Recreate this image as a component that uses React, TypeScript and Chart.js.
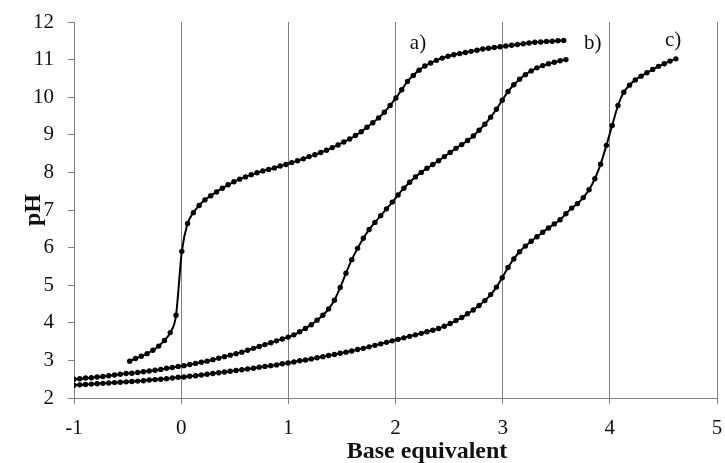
import React, { useEffect, useRef } from "react";
import { Chart, registerables } from "chart.js";

Chart.register(...registerables);

// Curve a)
const xA = [-0.48, -0.426, -0.372, -0.318, -0.264, -0.21, -0.156, -0.102, -0.048, 0.006, 0.06, 0.114, 0.168, 0.222, 0.276, 0.33, 0.384, 0.438, 0.492, 0.546, 0.6, 0.654, 0.708, 0.762, 0.816, 0.87, 0.924, 0.978, 1.032, 1.086, 1.14, 1.194, 1.248, 1.302, 1.356, 1.41, 1.464, 1.518, 1.572, 1.626, 1.68, 1.734, 1.788, 1.842, 1.896, 1.95, 2.004, 2.058, 2.112, 2.166, 2.22, 2.274, 2.328, 2.382, 2.436, 2.49, 2.544, 2.598, 2.652, 2.706, 2.76, 2.814, 2.868, 2.922, 2.976, 3.03, 3.084, 3.138, 3.192, 3.246, 3.3, 3.354, 3.408, 3.462, 3.516, 3.57];
const pHA = [2.98, 3.05, 3.11, 3.18, 3.27, 3.38, 3.53, 3.74, 4.2, 5.9, 6.64, 6.93, 7.12, 7.27, 7.38, 7.48, 7.58, 7.67, 7.75, 7.82, 7.88, 7.94, 7.99, 8.04, 8.08, 8.12, 8.17, 8.21, 8.26, 8.31, 8.36, 8.42, 8.47, 8.53, 8.59, 8.66, 8.73, 8.81, 8.89, 8.98, 9.08, 9.2, 9.32, 9.45, 9.6, 9.78, 9.98, 10.2, 10.42, 10.58, 10.72, 10.83, 10.91, 10.98, 11.04, 11.09, 11.13, 11.16, 11.19, 11.22, 11.25, 11.28, 11.3, 11.32, 11.34, 11.36, 11.38, 11.4, 11.42, 11.44, 11.46, 11.47, 11.48, 11.49, 11.5, 11.51];

// Curve b)
const xB = [-1, -0.946, -0.892, -0.838, -0.784, -0.73, -0.676, -0.622, -0.568, -0.514, -0.46, -0.406, -0.352, -0.298, -0.244, -0.19, -0.136, -0.082, -0.028, 0.026, 0.08, 0.134, 0.188, 0.242, 0.296, 0.35, 0.404, 0.458, 0.512, 0.566, 0.62, 0.674, 0.728, 0.782, 0.836, 0.89, 0.944, 0.998, 1.052, 1.106, 1.16, 1.214, 1.268, 1.322, 1.376, 1.43, 1.484, 1.538, 1.592, 1.646, 1.7, 1.754, 1.808, 1.862, 1.916, 1.97, 2.024, 2.078, 2.132, 2.186, 2.24, 2.294, 2.348, 2.402, 2.456, 2.51, 2.564, 2.618, 2.672, 2.726, 2.78, 2.834, 2.888, 2.942, 2.996, 3.05, 3.104, 3.158, 3.212, 3.266, 3.32, 3.374, 3.428, 3.482, 3.536, 3.59];
const pHB = [2.5, 2.51, 2.53, 2.54, 2.56, 2.57, 2.59, 2.61, 2.63, 2.65, 2.66, 2.68, 2.7, 2.72, 2.74, 2.76, 2.79, 2.81, 2.84, 2.86, 2.89, 2.92, 2.95, 2.98, 3.02, 3.06, 3.1, 3.14, 3.18, 3.22, 3.27, 3.32, 3.37, 3.42, 3.47, 3.52, 3.57, 3.62, 3.68, 3.76, 3.85, 3.95, 4.07, 4.2, 4.37, 4.6, 4.94, 5.32, 5.68, 5.98, 6.25, 6.48, 6.67, 6.85, 7.03, 7.21, 7.4, 7.58, 7.74, 7.88, 8.0, 8.11, 8.21, 8.31, 8.42, 8.53, 8.64, 8.74, 8.85, 8.97, 9.12, 9.28, 9.47, 9.68, 9.92, 10.15, 10.33, 10.48, 10.6, 10.7, 10.78, 10.84, 10.89, 10.93, 10.97, 11.0];

// Curve c)
const xC = [-1, -0.946, -0.892, -0.838, -0.784, -0.73, -0.676, -0.622, -0.568, -0.514, -0.46, -0.406, -0.352, -0.298, -0.244, -0.19, -0.136, -0.082, -0.028, 0.026, 0.08, 0.134, 0.188, 0.242, 0.296, 0.35, 0.404, 0.458, 0.512, 0.566, 0.62, 0.674, 0.728, 0.782, 0.836, 0.89, 0.944, 0.998, 1.052, 1.106, 1.16, 1.214, 1.268, 1.322, 1.376, 1.43, 1.484, 1.538, 1.592, 1.646, 1.7, 1.754, 1.808, 1.862, 1.916, 1.97, 2.024, 2.078, 2.132, 2.186, 2.24, 2.294, 2.348, 2.402, 2.456, 2.51, 2.564, 2.618, 2.672, 2.726, 2.78, 2.834, 2.888, 2.942, 2.996, 3.05, 3.104, 3.158, 3.212, 3.266, 3.32, 3.374, 3.428, 3.482, 3.536, 3.59, 3.644, 3.698, 3.752, 3.806, 3.86, 3.914, 3.968, 4.022, 4.076, 4.13, 4.184, 4.238, 4.292, 4.346, 4.4, 4.454, 4.508, 4.562, 4.616];
const pHC = [2.34, 2.35, 2.36, 2.37, 2.38, 2.39, 2.4, 2.41, 2.42, 2.43, 2.44, 2.45, 2.46, 2.48, 2.49, 2.5, 2.51, 2.53, 2.55, 2.56, 2.58, 2.59, 2.61, 2.63, 2.65, 2.67, 2.69, 2.71, 2.73, 2.75, 2.77, 2.79, 2.82, 2.84, 2.86, 2.88, 2.91, 2.93, 2.96, 2.99, 3.01, 3.04, 3.07, 3.1, 3.13, 3.16, 3.19, 3.22, 3.25, 3.29, 3.32, 3.36, 3.4, 3.44, 3.48, 3.52, 3.56, 3.6, 3.64, 3.68, 3.72, 3.76, 3.8, 3.85, 3.91, 3.98, 4.06, 4.14, 4.24, 4.34, 4.46, 4.59, 4.75, 4.95, 5.2, 5.47, 5.7, 5.89, 6.04, 6.17, 6.29, 6.41, 6.52, 6.63, 6.74, 6.9, 7.05, 7.17, 7.33, 7.54, 7.83, 8.22, 8.72, 9.25, 9.78, 10.13, 10.32, 10.46, 10.56, 10.65, 10.74, 10.82, 10.89, 10.96, 11.02];

const curveLabels = ["a)", "b)", "c)"];
const curveLabelX = [2.21, 3.84, 4.59];
const curveLabelY = [11.44, 11.44, 11.52];

const xTitle = "Base equivalent";
const yTitle = "pH";

const FONT = "'Liberation Serif', 'Times New Roman', serif";

const textPlugin = {
  id: "textPlugin",
  afterDraw(chart: any) {
    const ctx = chart.ctx;
    const xs = chart.scales.x;
    const ys = chart.scales.y;
    ctx.save();
    ctx.fillStyle = "#111";
    ctx.font = `21px ${FONT}`;
    ctx.textAlign = "center";
    ctx.textBaseline = "middle";
    curveLabels.forEach((t, i) => {
      ctx.fillText(t, xs.getPixelForValue(curveLabelX[i]), ys.getPixelForValue(curveLabelY[i]));
    });
    ctx.font = `bold 24px ${FONT}`;
    ctx.textBaseline = "alphabetic";
    ctx.fillText(xTitle, 427, 458);
    ctx.translate(40, (chart.chartArea.top + chart.chartArea.bottom) / 2);
    ctx.rotate(-Math.PI / 2);
    ctx.fillText(yTitle, 0, 0);
    ctx.restore();
  },
};

const mk = (xs: number[], ys: number[]) => xs.map((x, i) => ({ x, y: ys[i] }));

export default function App() {
  const ref = useRef<HTMLCanvasElement | null>(null);
  useEffect(() => {
    document.body.style.margin = "0";
    const ds = (data: any) => ({
      data,
      showLine: true,
      borderColor: "#000",
      borderWidth: 2,
      backgroundColor: "#000",
      pointRadius: 2.7,
      pointBorderWidth: 0,
      pointBackgroundColor: "#000",
      cubicInterpolationMode: "monotone",
      fill: false,
    });
    const chart = new Chart(ref.current as HTMLCanvasElement, {
      type: "scatter",
      data: {
        datasets: [ds(mk(xA, pHA)), ds(mk(xB, pHB)), ds(mk(xC, pHC))],
      },
      options: {
        animation: false,
        responsive: false,
        layout: { padding: { top: 22, right: 8, left: 0, bottom: 0 } },
        plugins: { legend: { display: false }, tooltip: { enabled: false } },
        scales: {
          x: {
            type: "linear",
            min: -1,
            max: 5,
            ticks: { stepSize: 1, color: "#111", font: { family: FONT, size: 21 }, padding: 12 },
            grid: { color: "#808080", lineWidth: 1, tickLength: 6, drawTicks: true },
            border: { color: "#808080", width: 1 },
            afterFit: (s: any) => {
              s.height = 65;
              s.paddingLeft = 0;
              s.paddingRight = 0;
            },
          },
          y: {
            type: "linear",
            min: 2,
            max: 12,
            ticks: { stepSize: 1, color: "#111", font: { family: FONT, size: 21 }, padding: 14 },
            grid: { color: "#808080", lineWidth: 1, tickLength: 6, drawOnChartArea: false, drawTicks: true },
            border: { color: "#808080", width: 1 },
            afterFit: (s: any) => {
              s.width = 74;
              s.paddingTop = 0;
              s.paddingBottom = 0;
            },
          },
        },
      } as any,
      plugins: [textPlugin],
    });
    return () => chart.destroy();
  }, []);
  return (
    <div style={{ width: 725, height: 463 }}>
      <canvas ref={ref} width={725} height={463} style={{ width: 725, height: 463 }} />
    </div>
  );
}
